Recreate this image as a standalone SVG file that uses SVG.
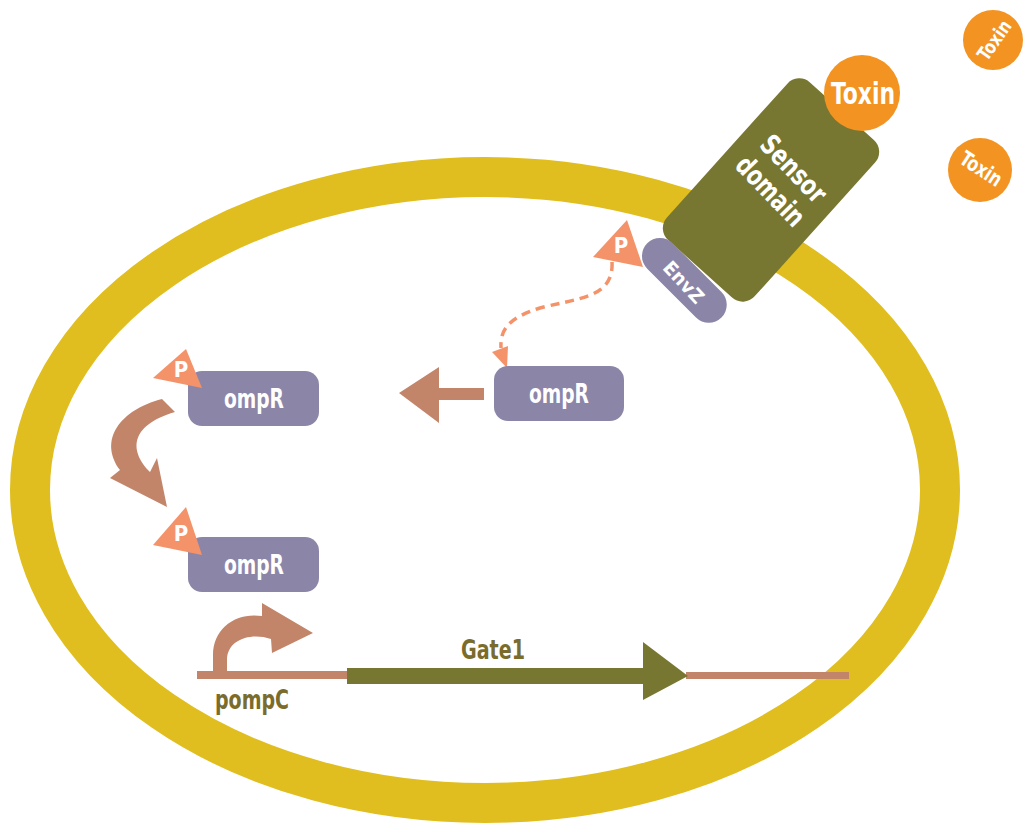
<svg xmlns="http://www.w3.org/2000/svg" width="1023" height="827" viewBox="0 0 1023 827">
  <style>
    .lbl { font-family: "Liberation Sans Narrow", "DejaVu Sans Condensed", "DejaVu Sans", sans-serif; font-weight: bold; font-stretch: condensed; text-anchor: middle; dominant-baseline: central; }
    .white { fill: #ffffff; }
    .dark { fill: #7a6c2c; }
    .box { fill: #8b85a8; }
    .phos { fill: #f4936a; }
    .toxin { fill: #f39322; }
    .brown { fill: #c3856a; }
    .olive { fill: #787731; }
  </style>

  <rect width="1023" height="827" fill="#ffffff"/>

  <!-- cell membrane -->
  <g id="membrane">
    <ellipse cx="485" cy="490" rx="455" ry="313" fill="none" stroke="#e0be1f" stroke-width="40"/>
  </g>

  <!-- connectors -->
  <g id="connectors">
    <!-- phosphate transfer (dashed) -->
    <path d="M612,262 C614,298 578,298 540,308 C508,318 500,330 501,348" fill="none" stroke="#f4936a" stroke-width="3.5" stroke-dasharray="9,6"/>
    <path class="phos" d="M492,352 L508,346 L507,368 Z"/>
    <!-- ompR to ompR-P -->
    <path class="brown" d="M484,388 L439,388 L439,367 L399,393 L439,423 L439,400 L484,400 Z"/>
    <!-- curved arrow between ompR-P boxes -->
    <path class="brown" d="M162,399 C120,410 98,440 120,470 L110,478 L167,507 L157,458 L150,472 C130,452 128,426 175,412 Z"/>
    <!-- promoter activation arrow -->
    <path class="brown" d="M213,672 L213,655 C213,628 236,612 262,616 L262,603 L313,633 L272,653 L271,639 C250,632 227,640 227,660 L227,672 Z"/>
  </g>

  <!-- DNA strand -->
  <g id="dna">
    <rect x="197" y="671" width="152" height="8" fill="#c3856a"/>
    <rect x="686" y="672" width="163" height="7" fill="#c3856a"/>
  </g>

  <!-- Gate1 gene -->
  <g id="gate1">
    <path class="olive" d="M347,668 L643,668 L643,642 L688,676 L643,700 L643,684 L347,684 Z"/>
    <text class="lbl dark" x="493" y="650" font-size="26" textLength="64" lengthAdjust="spacingAndGlyphs">Gate1</text>
  </g>

  <!-- promoter label -->
  <g id="pompC">
    <text class="lbl dark" x="252" y="700" font-size="26" textLength="74" lengthAdjust="spacingAndGlyphs">pompC</text>
  </g>

  <!-- sensor domain -->
  <g id="sensor">
    <rect class="olive" x="712" y="84" width="118" height="212" rx="16" transform="rotate(42 771 190)"/>
    <g transform="rotate(46 782 180)">
      <text class="lbl white" x="782" y="164" font-size="28" textLength="82" lengthAdjust="spacingAndGlyphs">Sensor</text>
      <text class="lbl white" x="782" y="196" font-size="28" textLength="86" lengthAdjust="spacingAndGlyphs">domain</text>
    </g>
  </g>

  <!-- EnvZ -->
  <g id="envz">
    <rect class="box" x="632" y="262" width="105" height="36" rx="18" transform="rotate(45 684 280)"/>
    <text class="lbl white" x="684" y="282" font-size="19" textLength="50" lengthAdjust="spacingAndGlyphs" transform="rotate(47 684 282)">EnvZ</text>
  </g>

  <!-- phosphate on EnvZ -->
  <g id="p-envz">
    <path class="phos" d="M627,220 L593,257 L643,267 Z"/>
    <text class="lbl white" x="621" y="245" font-size="22">P</text>
  </g>

  <!-- bound toxin -->
  <g id="toxin-bound">
    <circle class="toxin" cx="862" cy="93" r="38"/>
    <text class="lbl white" x="863" y="93" font-size="30" textLength="64" lengthAdjust="spacingAndGlyphs">Toxin</text>
  </g>

  <!-- free toxins -->
  <g id="toxin-free-1">
    <circle class="toxin" cx="993" cy="40" r="30"/>
    <text class="lbl white" x="994" y="40" font-size="19" textLength="44" lengthAdjust="spacingAndGlyphs" transform="rotate(-55 994 40)">Toxin</text>
  </g>
  <g id="toxin-free-2">
    <circle class="toxin" cx="980" cy="170" r="32"/>
    <text class="lbl white" x="981" y="169" font-size="21" textLength="46" lengthAdjust="spacingAndGlyphs" transform="rotate(33 981 169)">Toxin</text>
  </g>

  <!-- ompR (unphosphorylated) -->
  <g id="ompr-free">
    <rect class="box" x="494" y="366" width="130" height="55" rx="14"/>
    <text class="lbl white" x="559" y="393" font-size="27" textLength="60" lengthAdjust="spacingAndGlyphs">ompR</text>
  </g>

  <!-- ompR-P (upper) -->
  <g id="ompr-p1">
    <rect class="box" x="188" y="371" width="131" height="55" rx="14"/>
    <text class="lbl white" x="254" y="398" font-size="27" textLength="60" lengthAdjust="spacingAndGlyphs">ompR</text>
    <path class="phos" d="M186,349 L153,378 L202,388 Z"/>
    <text class="lbl white" x="181" y="369" font-size="22">P</text>
  </g>

  <!-- ompR-P (lower) -->
  <g id="ompr-p2">
    <rect class="box" x="188" y="537" width="131" height="55" rx="14"/>
    <text class="lbl white" x="254" y="564" font-size="27" textLength="60" lengthAdjust="spacingAndGlyphs">ompR</text>
    <path class="phos" d="M186,507 L153,545 L202,555 Z"/>
    <text class="lbl white" x="181" y="533" font-size="22">P</text>
  </g>
</svg>
